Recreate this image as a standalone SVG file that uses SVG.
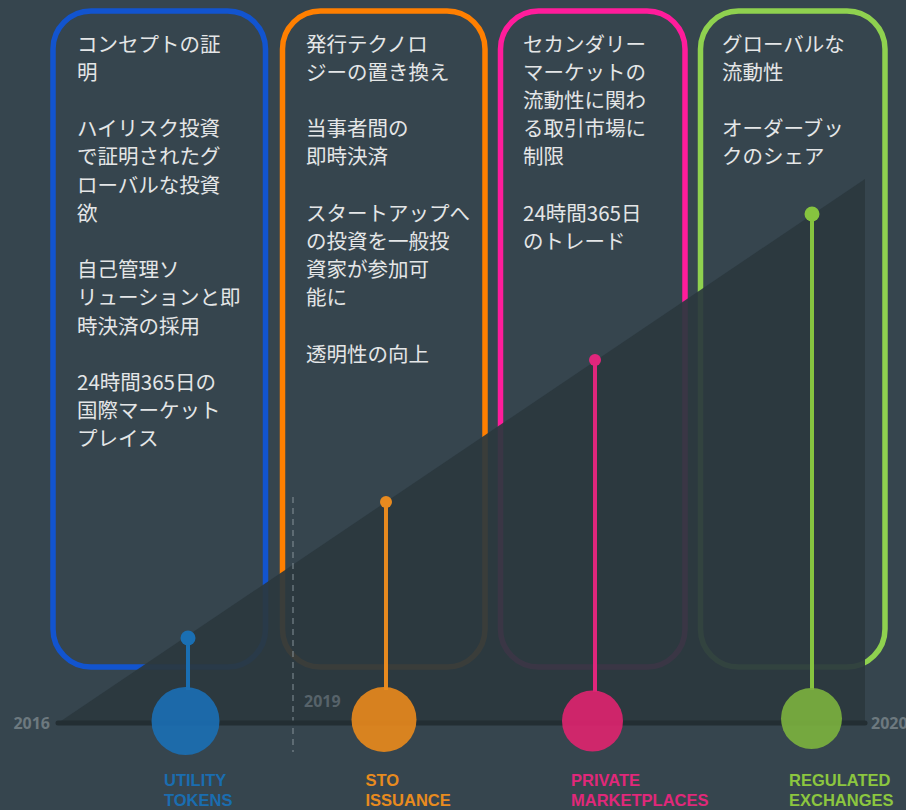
<svg xmlns="http://www.w3.org/2000/svg" width="906" height="810" viewBox="0 0 906 810">
<style>
.box{fill:none;stroke-width:5.5}
.body{font-family:"Noto Sans CJK JP","Noto Sans",sans-serif;font-size:20.5px;fill:#e4e6e7}
.year{font-family:"Open Sans","Liberation Sans",sans-serif;font-weight:700;font-size:16px}
.lbl{font-family:"Liberation Sans","Open Sans",sans-serif;font-weight:700;font-size:16.5px}
.stem{stroke-width:4;fill:none}
.big{opacity:0.9}
</style>
<rect width="906" height="810" fill="#36454e"/>
<g id="box-utility">
<rect class="box" x="53" y="11" width="212.5" height="656" rx="38" stroke="#1254cf"/>
<text class="body" x="77" y="51.5">コンセプトの証</text>
<text class="body" x="77" y="79.7">明</text>
<text class="body" x="77" y="136.1">ハイリスク投資</text>
<text class="body" x="77" y="164.3">で証明されたグ</text>
<text class="body" x="77" y="192.5">ローバルな投資</text>
<text class="body" x="77" y="220.7">欲</text>
<text class="body" x="77" y="277.1">自己管理ソ</text>
<text class="body" x="77" y="305.3">リューションと即</text>
<text class="body" x="77" y="333.5">時決済の採用</text>
<text class="body" x="77" y="389.9">24時間365日の</text>
<text class="body" x="77" y="418.1">国際マーケット</text>
<text class="body" x="77" y="446.3">プレイス</text>
</g>
<g id="box-sto">
<rect class="box" x="282.5" y="11" width="202.5" height="656" rx="38" stroke="#ff7f00"/>
<text class="body" x="306" y="51.5">発行テクノロ</text>
<text class="body" x="306" y="79.7">ジーの置き換え</text>
<text class="body" x="306" y="136.1">当事者間の</text>
<text class="body" x="306" y="164.3">即時決済</text>
<text class="body" x="306" y="220.7">スタートアップへ</text>
<text class="body" x="306" y="248.9">の投資を一般投</text>
<text class="body" x="306" y="277.1">資家が参加可</text>
<text class="body" x="306" y="305.3">能に</text>
<text class="body" x="306" y="361.7">透明性の向上</text>
</g>
<g id="box-private">
<rect class="box" x="500.5" y="11" width="184.5" height="656" rx="38" stroke="#ff1c9b"/>
<text class="body" x="523" y="51.5">セカンダリー</text>
<text class="body" x="523" y="79.7">マーケットの</text>
<text class="body" x="523" y="107.9">流動性に関わ</text>
<text class="body" x="523" y="136.1">る取引市場に</text>
<text class="body" x="523" y="164.3">制限</text>
<text class="body" x="523" y="220.7">24時間365日</text>
<text class="body" x="523" y="248.9">のトレード</text>
</g>
<g id="box-regulated">
<rect class="box" x="700.5" y="11" width="184.5" height="656" rx="38" stroke="#8fd14f"/>
<text class="body" x="722" y="51.5">グローバルな</text>
<text class="body" x="722" y="79.7">流動性</text>
<text class="body" x="722" y="136.1">オーダーブッ</text>
<text class="body" x="722" y="164.3">クのシェア</text>
</g>
<path id="growth" d="M58 723 L865 179 L865 723 Z" fill="#2b383e" opacity="0.93"/>
<g id="axis">
<line x1="293" y1="497" x2="293" y2="752" stroke="#8a979d" stroke-width="1.2" stroke-dasharray="6 5" opacity="0.8"/>
<line x1="58" y1="723" x2="865" y2="723" stroke="#232e33" stroke-width="5" stroke-linecap="round"/>
<text class="year" x="50" y="729" text-anchor="end" fill="#6d797f">2016</text>
<text class="year" x="304" y="706.5" fill="#57636a">2019</text>
<text class="year" x="871" y="729" fill="#6d797f">2020</text>
</g>
<g id="connectors">
<line class="stem" x1="188" y1="638" x2="188" y2="690" stroke="#1a6fb3"/>
<line class="stem" x1="386" y1="502" x2="386" y2="690" stroke="#e88a1f"/>
<line class="stem" x1="595" y1="360" x2="595" y2="692" stroke="#e0267c"/>
<line class="stem" x1="812" y1="214" x2="812" y2="690" stroke="#86c43f"/>
</g>
<g id="marker-utility">
<circle cx="188" cy="638" r="7.5" fill="#1a6fb3"/>
<circle class="big" cx="185.5" cy="721" r="34" fill="#1b6fb5"/>
<text class="lbl" x="164" y="785.5" fill="#1a6db0">UTILITY</text>
<text class="lbl" x="164" y="806" fill="#1a6db0">TOKENS</text>
</g>
<g id="marker-sto">
<circle cx="386" cy="502" r="6" fill="#e88a1f"/>
<circle class="big" cx="384" cy="719.5" r="32.5" fill="#ea8a1c"/>
<text class="lbl" x="365.5" y="785.5" fill="#e88b1e">STO</text>
<text class="lbl" x="365.5" y="806" fill="#e88b1e">ISSUANCE</text>
</g>
<g id="marker-private">
<circle cx="595" cy="360" r="6" fill="#e0267c"/>
<circle class="big" cx="592.5" cy="721" r="30.5" fill="#e0246f"/>
<text class="lbl" x="571" y="785.5" fill="#e0287a">PRIVATE</text>
<text class="lbl" x="571" y="806" fill="#e0287a">MARKETPLACES</text>
</g>
<g id="marker-regulated">
<circle cx="812" cy="214" r="7.5" fill="#86c43f"/>
<circle class="big" cx="811.5" cy="718.5" r="30.5" fill="#7cb23e"/>
<text class="lbl" x="789" y="785.5" fill="#8cc63f">REGULATED</text>
<text class="lbl" x="789" y="806" fill="#8cc63f">EXCHANGES</text>
</g>
</svg>
